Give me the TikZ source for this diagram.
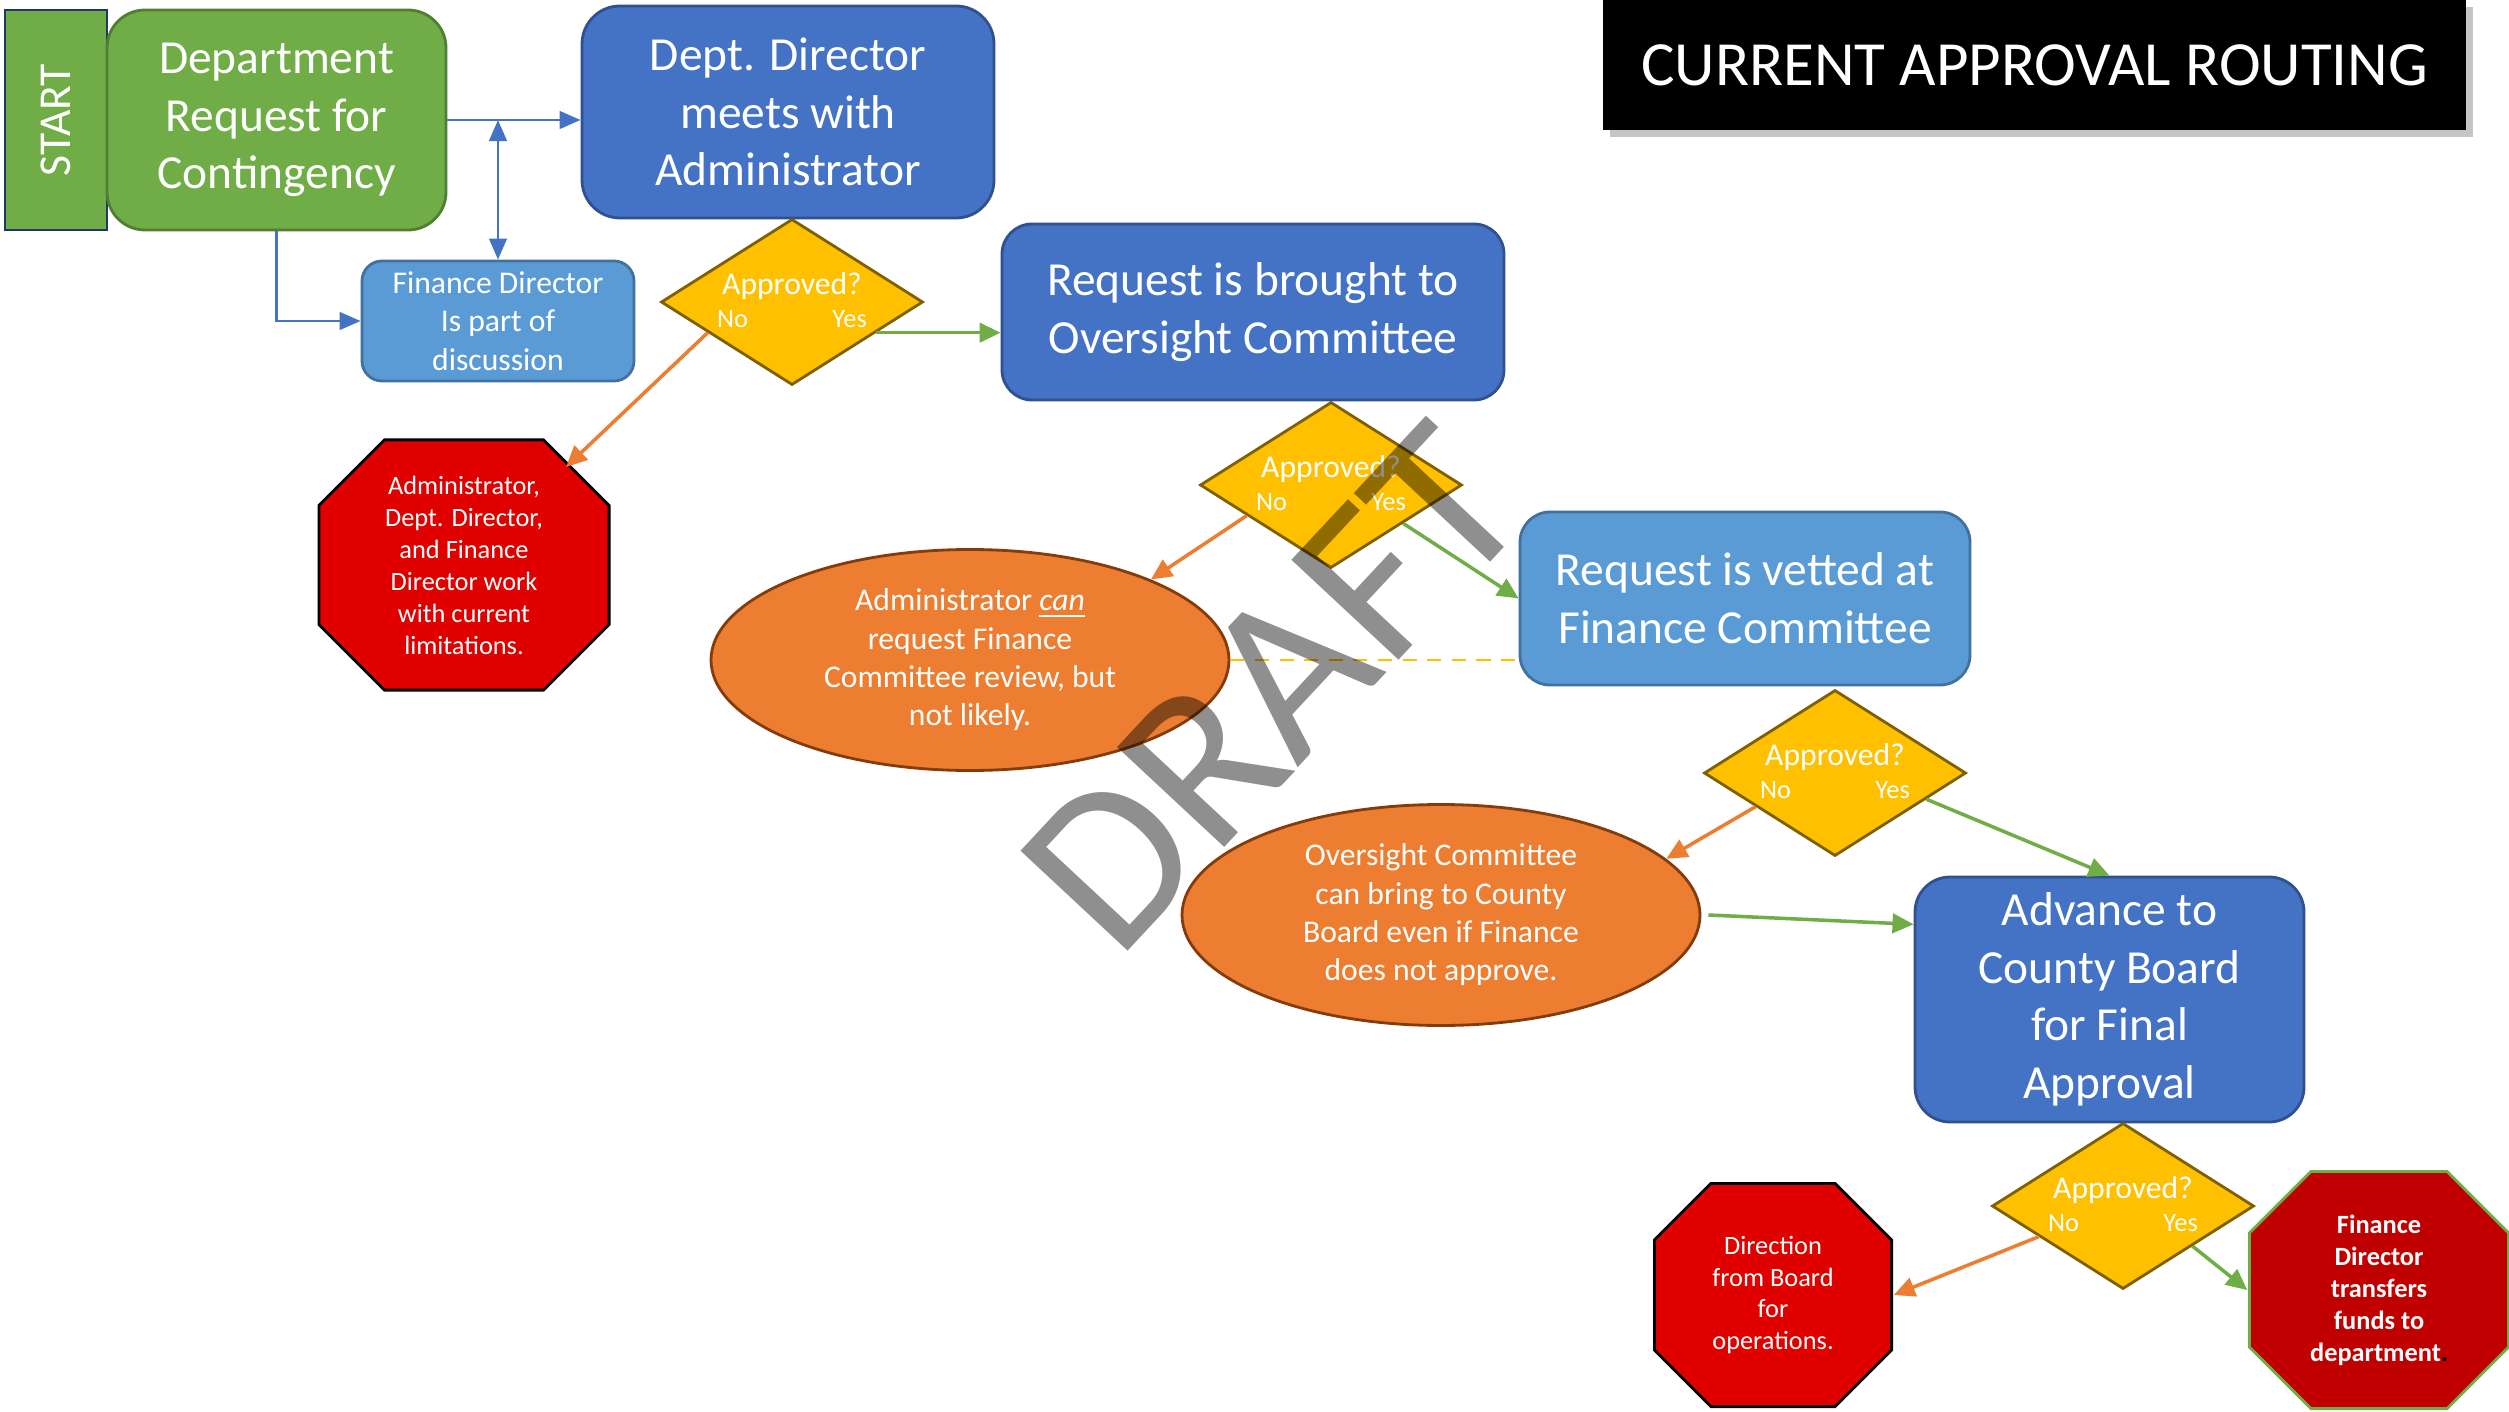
\documentclass[tikz,border=0pt]{standalone}
\usepackage{fontspec}
\setmainfont{Carlito}
\usepackage{tikz}
\usepackage{xcolor}
\usetikzlibrary{shapes.geometric,arrows.meta,shadows}

\definecolor{grnfill}{HTML}{70AD47}
\definecolor{grnline}{HTML}{507E32}
\definecolor{blufill}{HTML}{4472C4}
\definecolor{bluline}{HTML}{2F528F}
\definecolor{lblfill}{HTML}{5B9BD5}
\definecolor{lblline}{HTML}{41719C}
\definecolor{yelfill}{HTML}{FFC000}
\definecolor{yelline}{HTML}{7F6000}
\definecolor{orgfill}{HTML}{ED7D31}
\definecolor{orgline}{HTML}{843C0C}
\definecolor{redfill}{HTML}{E00000}
\definecolor{darkred}{HTML}{C00000}
\definecolor{navy}{HTML}{1F3864}

\newcommand{\apprtext}{\makebox[0pt]{\smash{\raisebox{-2.6pt}{\begin{tabular}{@{}c@{}}Approved?\\[-1.6pt]{\fontsize{7.5}{9}\selectfont No\hspace{24pt}Yes}\end{tabular}}}}}

\tikzset{
  bigfont/.style={font=\fontsize{13.5}{16.4}\selectfont},
  midfont/.style={font=\fontsize{9}{10.9}\selectfont},
  smallfont/.style={font=\fontsize{7.5}{9.1}\selectfont},
  flowbox/.style={rectangle, draw, line width=0.8pt, text=white, align=center, inner sep=0pt},
  greenbox/.style={flowbox, fill=grnfill, draw=grnline, rounded corners=0.38cm, bigfont},
  bluebox/.style={flowbox, fill=blufill, draw=bluline, rounded corners=0.38cm, bigfont},
  lightbox/.style={flowbox, fill=lblfill, draw=lblline, rounded corners=0.3cm, bigfont},
  startbox/.style={flowbox, fill=grnfill, draw=navy, rotate=90, font=\fontsize{13}{15}\selectfont},
  decision/.style={diamond, draw=yelline, fill=yelfill, line width=0.8pt, text=white,
    inner sep=0pt, minimum width=2.62cm, minimum height=1.66cm, font=\fontsize{9}{10.9}\selectfont},
  sidenote/.style={ellipse, draw=orgline, fill=orgfill, line width=0.8pt, text=white, align=center,
    inner sep=0pt, minimum width=5.18cm, minimum height=2.21cm, midfont},
  stopsign/.style n args={3}{rectangle, inner sep=0pt, text=white, align=center, smallfont,
    path picture={
      \filldraw[fill=#2, draw=#3, line width=0.8pt]
        ([xshift=#1,yshift=-0.4pt]path picture bounding box.north west)
        -- ([xshift=-#1,yshift=-0.4pt]path picture bounding box.north east)
        -- ([xshift=-0.4pt,yshift=-#1]path picture bounding box.north east)
        -- ([xshift=-0.4pt,yshift=#1]path picture bounding box.south east)
        -- ([xshift=-#1,yshift=0.4pt]path picture bounding box.south east)
        -- ([xshift=#1,yshift=0.4pt]path picture bounding box.south west)
        -- ([xshift=0.4pt,yshift=#1]path picture bounding box.south west)
        -- ([xshift=0.4pt,yshift=-#1]path picture bounding box.north west)
        -- cycle;}},
  yesarrow/.style={draw=grnfill, line width=1pt, -{Triangle[length=6pt,width=5.5pt]}},
  noarrow/.style={draw=orgfill, line width=1pt, -{Triangle[length=6pt,width=5.5pt]}},
  bluearrow/.style={draw=blufill, line width=0.8pt, -{Triangle[length=6pt,width=5pt]}}
}

\begin{document}
\begin{tikzpicture}[x=1cm,y=1cm]
\fill[white] (0,0) rectangle (25.09,-14.12);
\useasboundingbox (0,0) rectangle (25.09,-14.12);

% heading
\node[fill=black, text=white, minimum width=8.63cm, minimum height=1.30cm,
  drop shadow={shadow xshift=0.07cm, shadow yshift=-0.07cm, opacity=0.45},
  font=\fontsize{17.9}{20}\selectfont] (title) at (20.345,-0.65) {CURRENT APPROVAL ROUTING};

% start and department request
\node[startbox, minimum width=2.20cm, minimum height=1.02cm] (start) at (0.56,-1.20) {START};
\node[greenbox, minimum width=3.39cm, minimum height=2.20cm] (deptreq) at (2.765,-1.20) {Department\\Request for\\Contingency};
\node[bluebox, minimum width=4.12cm, minimum height=2.12cm] (deptdir) at (7.88,-1.12) {Dept. Director\\meets with\\Administrator};
\node[lightbox, midfont, rounded corners=0.2cm, minimum width=2.72cm, minimum height=1.20cm] (findir) at (4.98,-3.21) {Finance Director\\Is part of\\discussion};

\draw[bluearrow] (deptreq.east) -- (deptreq.east -| deptdir.west);
\draw[bluearrow, {Triangle[length=6pt,width=5pt]}-{Triangle[length=6pt,width=5pt]}] (findir.north |- deptreq.east) -- (findir.north);
\draw[bluearrow] (deptreq.south) |- (findir.west);

% first decision
\node[decision] (dia1) at (7.92,-3.02) {\apprtext};
\node[stopsign={0.67cm}{redfill}{black}, minimum width=2.93cm, minimum height=2.53cm] (stop1) at (4.64,-5.65)
  {Administrator,\\Dept. Director,\\and Finance\\Director work\\with current\\limitations.};
\node[bluebox, rounded corners=0.3cm, minimum width=5.02cm, minimum height=1.76cm] (oversight) at (12.53,-3.12) {Request is brought to\\Oversight Committee};

\draw[yesarrow] (dia1.-20) -- (dia1.-20 -| oversight.west);
\draw[noarrow] (dia1.200) -- ([xshift=1.02cm,yshift=0.98cm]stop1.center);

% second decision
\node[decision] (dia2) at (13.31,-4.85) {\apprtext};
\node[sidenote] (ell1) at (9.70,-6.60) {Administrator \underline{\textit{can}}\\request Finance\\Committee review, but\\not likely.};
\node[lightbox, minimum width=4.50cm, minimum height=1.73cm] (fincom) at (17.45,-5.985) {Request is vetted at\\Finance Committee};

\draw[noarrow] (dia2.200) -- (ell1.24);
\draw[yesarrow] (dia2.-28) -- (fincom.west);
\draw[yelfill, line width=0.8pt, dash pattern=on 4pt off 3pt] (ell1.east) -- (ell1.east -| fincom.west);

% third decision
\node[decision] (dia3) at (18.35,-7.73) {\apprtext};
\node[sidenote] (ell2) at (14.41,-9.15) {Oversight Committee\\can bring to County\\Board even if Finance\\does not approve.};
\node[bluebox, rounded corners=0.35cm, minimum width=3.89cm, minimum height=2.45cm] (board) at (21.095,-9.995) {Advance to\\County Board\\for Final\\Approval};

\draw[noarrow] (dia3.203) -- (ell2.14);
\draw[yesarrow] (dia3.-16) -- (board.north);
\draw[yesarrow] ([xshift=0.07cm]ell2.east) -- (board.159);

% final decision
\node[decision] (dia4) at (21.23,-12.06) {\apprtext};
\node[stopsign={0.58cm}{redfill}{black}, minimum width=2.40cm, minimum height=2.26cm] (stop2) at (17.73,-12.95)
  {Direction\\from Board\\for\\operations.};
\node[stopsign={0.63cm}{darkred}{grnfill}, font=\fontsize{7.5}{9.1}\selectfont\bfseries,
  minimum width=2.62cm, minimum height=2.40cm] (stop3) at (23.79,-12.90)
  {Finance\\Director\\transfers\\funds to\\department\textcolor{black}{.}};

\draw[noarrow] (dia4.200) -- (stop2.east);
\draw[yesarrow] (dia4.-30) -- (stop3.west);

% watermark
\node[rotate=47, text=black, text opacity=0.44, font=\fontsize{65}{65}\selectfont] (wmark) at (12.73,-6.88) {DRAFT};
\end{tikzpicture}
\end{document}
